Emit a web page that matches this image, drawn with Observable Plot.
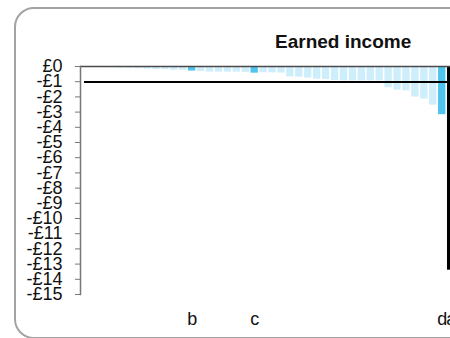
<!DOCTYPE html>
<html>
<head>
<meta charset="utf-8">
<script src="https://cdn.jsdelivr.net/npm/d3@7"></script>
<script src="https://cdn.jsdelivr.net/npm/@observablehq/plot@0.6"></script>
<style>
  html, body { margin: 0; padding: 0; background: #fff; overflow: hidden; width: 450px; height: 338px; }
  body { position: relative; font-family: "Liberation Sans", Arial, sans-serif; }
  #box { position: absolute; left: 14px; top: 7px; width: 700px; height: 332px; border: 2px solid #a3a3a3; border-radius: 20px; box-sizing: border-box; }
  #title { position: absolute; left: 275px; top: 31px; line-height: 21px; font-size: 19px; font-weight: bold; color: #111; white-space: nowrap; }
  #chart { position: absolute; left: 0; top: 56px; width: 480px; }
  #chart svg { overflow: visible; max-width: none !important; }
</style>
</head>
<body>
<div id="box"></div>
<div id="title">Earned income</div>
<div id="chart"></div>
<script>
// Category labels (only a few are named on the axis)
const labels = ["", "", "", "", "", "", "", "", "", "", "", "", "b", "", "", "", "", "", "", "c", "", "",
                "", "", "", "", "", "", "", "", "", "", "", "", "", "", "", "", "", "", "d", "a"];
// Values in £
const values = [-0.03, -0.05, -0.06, -0.08, -0.10, -0.12, -0.14, -0.17, -0.20, -0.20, -0.24, -0.24, -0.30,
                -0.33, -0.37, -0.37, -0.37, -0.37, -0.39, -0.44, -0.41, -0.42, -0.43, -0.68, -0.70, -0.76,
                -0.83, -0.85, -0.92, -0.94, -0.95, -0.95, -0.95, -0.95, -1.40, -1.55, -1.60, -2.01, -2.14,
                -2.54, -3.17, -13.4];
const yTicks = [0, -1, -2, -3, -4, -5, -6, -7, -8, -9, -10, -11, -12, -13, -14, -15];
const highlight = {b: "#4ec4ee", c: "#4ec4ee", d: "#4ec4ee", a: "#000000"};

const data = values.map((v, i) => ({id: i, label: labels[i], value: v}));
const meanValue = d3.mean(values);

const chart = Plot.plot({
  width: 480,
  height: 282,
  marginLeft: 80,
  marginRight: 24.9,
  marginTop: 10,
  marginBottom: 44,
  style: {fontFamily: "'Liberation Sans', Arial, sans-serif", background: "transparent", maxWidth: "none", overflow: "visible"},
  x: {type: "band", domain: data.map(d => d.id), paddingInner: 0.18, paddingOuter: 0.09, axis: null, label: null},
  y: {domain: [-15, 0], axis: null, label: null},
  marks: [
    Plot.barY(data, {x: "id", y: "value", fill: d => highlight[d.label] || "#cdeefa"}),
    Plot.ruleY([0], {stroke: "#4a4a4a", strokeWidth: 1.5}),
    Plot.ruleY([meanValue], {stroke: "#000", strokeWidth: 2, insetLeft: 4}),
    Plot.axisY({ticks: yTicks, tickSize: 5, tickPadding: 13, stroke: "#777", fill: "#111", fontSize: 18, label: null,
      tickFormat: d => d < 0 ? "-£" + (-d) : "£" + d}),
    Plot.frame({anchor: "left", stroke: "#777", strokeWidth: 1.5}),
    Plot.axisX({tickSize: 0, tickPadding: 18, fontSize: 18, fill: "#111", label: null,
      tickFormat: i => labels[i]})
  ]
});
document.getElementById("chart").appendChild(chart);
</script>
</body>
</html>
